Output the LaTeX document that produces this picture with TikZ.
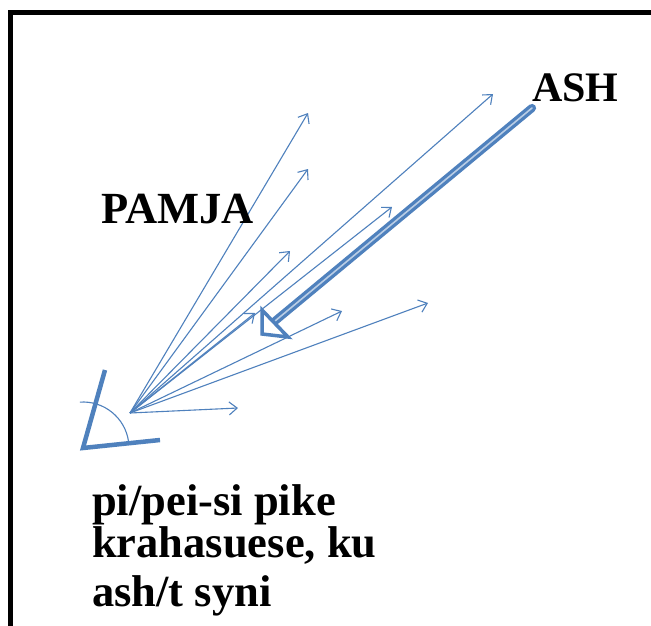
\documentclass[tikz,border=0pt]{standalone}
\usepackage{fontspec}
\setmainfont{Liberation Serif}
\usetikzlibrary{arrows.meta}
\definecolor{rayblue}{RGB}{79,129,189}
\begin{document}
\begin{tikzpicture}[x=1pt,y=-1pt,
  ray/.style={draw=rayblue,line width=1.1pt,-{Straight Barb[length=8pt,width=13pt,line width=1.1pt]}},
  lbl/.style={font=\bfseries\fontsize{44.5}{46}\selectfont,inner sep=0pt,anchor=base west},
  frame/.style={draw=black,line width=5pt},
  shaft/.style={draw=rayblue,line width=3.3pt,double=rayblue!40,double distance=1.6pt,line cap=round},
  headtri/.style={draw=rayblue,line width=3.5pt,fill=white,line join=miter},
  anglemark/.style={draw=rayblue,line width=4.5pt,line join=miter},
  anglearc/.style={draw=rayblue,line width=1.1pt}]
\useasboundingbox (0,0) rectangle (651,626);
\clip (0,0) rectangle (651,626);
\fill[white] (0,0) rectangle (651,626);
% frame
\draw[frame] (10,700) -- (10,13) -- (700,13);
% eye / angle
\coordinate (c0) at (83,448);
\coordinate (cA) at (105,370);
\coordinate (cB) at (160,440);
\draw[anglemark] (cA) -- (c0) -- (cB);
\draw[anglearc] (c0) ++(-8:46) arc[start angle=-8,end angle=-94,radius=46];
% rays
\coordinate (O) at (130,413);
\coordinate (r1) at (308,113);
\coordinate (r2) at (308,169);
\coordinate (r3) at (290,251);
\coordinate (r4) at (493,94);
\coordinate (r5) at (392,207);
\coordinate (r6) at (342,311);
\coordinate (r7) at (428,303);
\coordinate (r8) at (238,408);
\coordinate (r9) at (255,313);
\foreach \r in {r1,r2,r3,r4,r5,r6,r7,r8,r9} \draw[ray] (O) -- (\r);
% incoming light
\coordinate (s0) at (532,108);
\coordinate (s1) at (275,321);
\coordinate (tip) at (262,334);
\coordinate (h1) at (262,310);
\coordinate (h2) at (288,337);
\draw[shaft] (s0) -- (s1);
\draw[headtri] (h1) -- (tip) -- (h2) -- cycle;
% labels
\node[lbl,font=\bfseries\fontsize{42}{44}\selectfont] (ash) at (532,102) {ASH};
\node[lbl] (pamja) at (101,223) {PAMJA};
\node[lbl] (t1) at (92,515) {pi/pei-si pike};
\node[lbl] (t2) at (92,557) {krahasuese, ku};
\node[lbl] (t3) at (92,606) {ash/t syni};
\end{tikzpicture}
\end{document}
